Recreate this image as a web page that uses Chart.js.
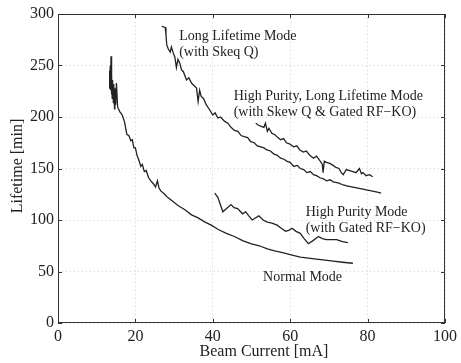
<!DOCTYPE html>
<html>
<head>
<meta charset="utf-8">
<script src="https://cdn.jsdelivr.net/npm/chart.js@4/dist/chart.umd.min.js"></script>
<style>
  html, body { margin: 0; padding: 0; background: #fff; }
  #wrap { width: 461px; height: 363px; }
</style>
</head>
<body>
<div id="wrap"><canvas id="chart" width="461" height="363"></canvas></div>
<script>
// beam lifetime vs. stored current for the four operating modes

const xTicks = [0, 20, 40, 60, 80, 100];
const yTicks = [0, 50, 100, 150, 200, 250, 300];

const normalX = [13.2,13.3,13.4,13.5,13.6,13.7,13.8,13.9,14.0,14.1,14.3,14.4,14.6,14.7,14.9,15.1,15.4,15.6,16.0,16.6,
  17.2,17.8,18.3,18.8,19.2,19.6,20.0,20.4,20.9,21.4,21.8,22.3,22.8,23.4,24.0,24.7,25.2,25.7,26.1,26.6,
  27.3,28.3,29.4,31.0,32.8,34.5,36.2,38.0,39.6,41.3,43.5,45.6,47.7,49.8,52.0,54.1,56.0,58.3,60.5,62.6,
  64.7,66.8,69.0,71.1,73.5,76.2];
const normalY = [228,245,230,250,226,259,222,240,218,236,214,232,208,228,212,233,210,208,205,202,
  195,183,182,177,178,170,170,163,158,152,154,147,148,141,138,135,132,138,131,128,
  126,122,119,114,110,105,102,98,95,91,87,84,80,77,75,72,70,68,66,64,
  63,62,61,60,59,58];

const purityX = [40.5,41.3,42.6,43.2,44.7,45.5,46.4,47.7,48.5,49.3,50.2,51.0,51.9,53.0,54.1,55.3,56.6,57.7,58.8,59.6,
  60.5,61.5,62.6,63.6,64.7,65.9,67.3,68.3,69.4,70.7,72.0,73.5,74.9];
const purityY = [126,122,108,110,115,112,111,106,108,104,100,102,104,100,98,97,95,92,89,90,
  92,89,87,82,77,80,84,82,81,81,81,79,78];

const longX = [26.8,27.7,27.9,28.1,28.5,29.0,29.3,29.8,30.2,30.6,31.0,31.5,31.9,32.4,32.8,33.2,33.8,34.5,35.0,35.8,
  36.2,36.6,37.0,37.6,38.3,39.0,40.0,40.6,41.3,42.0,43.0,43.9,44.7,45.6,46.5,47.3,48.1,49.0,49.8,50.7,
  51.5,52.4,53.2,54.0,54.9,55.8,56.6,57.5,58.4,59.2,60.0,60.9,61.8,62.6,63.5,64.3,65.2,66.0,66.8,67.7,
  68.6,69.4,70.3,71.1,72.4,73.7,74.9,76.2,77.5,78.8,80.0,81.3,82.5,83.5];
const longY = [288,287,280,270,266,263,268,262,258,248,256,252,246,244,240,236,238,233,231,228,
  215,226,220,218,212,208,202,204,199,200,196,194,190,187,186,182,181,180,176,175,
  172,171,170,168,167,164,163,160,159,157,156,152,153,150,149,146,147,144,143,141,
  140,138,139,137,136,134,133,132,131,130,129,128,127,126];

const bothX = [51.1,51.8,52.5,53.2,53.6,54.1,54.5,55.3,56.0,56.8,57.5,58.3,59.0,59.8,60.9,61.7,62.5,63.4,64.2,65.0,
  66.0,66.8,67.6,68.3,68.5,68.8,69.4,70.2,71.1,71.8,72.6,73.2,73.7,74.5,75.4,76.2,77.0,77.9,78.4,78.8,
  79.6,80.5,81.3];
const bothY = [194,192,191,190,194,186,189,184,183,180,178,179,175,174,171,172,168,166,167,163,
  160,162,158,154,146,157,156,155,153,151,150,146,144,149,148,147,146,150,145,146,
  143,144,142];

// in-plot annotations: text lines and their anchor in data units
const noteLines = [
  ["Long Lifetime Mode", "(with Skeq Q)"],
  ["High Purity, Long Lifetime Mode", "(with Skew Q & Gated RF\u2212KO)"],
  ["High Purity Mode", "(with Gated RF\u2212KO)"],
  ["Normal Mode"]
];
const noteX = [31.3, 45.4, 64.0, 53.0];
const noteY = [278, 220, 107, 44];

const SERIF = '"Liberation Serif", "Times New Roman", serif';
const INK = '#222';

function pts(xs, ys) {
  return xs.map((x, i) => ({ x: x, y: ys[i] }));
}

function series(label, xs, ys) {
  return {
    label: label,
    data: pts(xs, ys),
    borderColor: INK,
    borderWidth: 1.3,
    pointRadius: 0,
    tension: 0,
    fill: false
  };
}

// box around the plot with inward ticks, notes and axis titles
const framePlugin = {
  id: 'frame',
  afterDraw(chart) {
    const { ctx, chartArea: a, scales } = chart;
    ctx.save();
    ctx.strokeStyle = '#333';
    ctx.lineWidth = 1;
    ctx.strokeRect(a.left + 0.5, a.top + 0.5, a.right - a.left - 1, a.bottom - a.top - 1);

    const t = 4;
    ctx.beginPath();
    xTicks.forEach(v => {
      const px = Math.round(scales.x.getPixelForValue(v)) + 0.5;
      ctx.moveTo(px, a.bottom); ctx.lineTo(px, a.bottom - t);
      ctx.moveTo(px, a.top); ctx.lineTo(px, a.top + t);
    });
    yTicks.forEach(v => {
      const py = Math.round(scales.y.getPixelForValue(v)) + 0.5;
      ctx.moveTo(a.left, py); ctx.lineTo(a.left + t, py);
      ctx.moveTo(a.right, py); ctx.lineTo(a.right - t, py);
    });
    ctx.stroke();

    ctx.fillStyle = INK;
    ctx.font = '14px ' + SERIF;
    ctx.textAlign = 'left';
    ctx.textBaseline = 'middle';
    noteLines.forEach((lines, i) => {
      const px = scales.x.getPixelForValue(noteX[i]);
      const py = scales.y.getPixelForValue(noteY[i]);
      lines.forEach((s, j) => ctx.fillText(s, px, py + j * 16));
    });

    ctx.font = '16px ' + SERIF;
    ctx.textAlign = 'center';
    ctx.fillText('Beam Current [mA]', 264, 352);
    ctx.translate(18, 166);
    ctx.rotate(-Math.PI / 2);
    ctx.fillText('Lifetime [min]', 0, 0);
    ctx.restore();
  }
};

new Chart(document.getElementById('chart'), {
  type: 'line',
  data: {
    datasets: [
      series('Normal Mode', normalX, normalY),
      series('High Purity Mode', purityX, purityY),
      series('Long Lifetime Mode', longX, longY),
      series('High Purity, Long Lifetime Mode', bothX, bothY)
    ]
  },
  options: {
    responsive: false,
    animation: false,
    layout: { padding: { top: 14, right: 12, left: 0, bottom: 0 } },
    plugins: { legend: { display: false }, tooltip: { enabled: false } },
    scales: {
      x: {
        type: 'linear',
        min: 0, max: 100,
        afterFit: s => { s.height = 40; },
        afterBuildTicks: s => { s.ticks = xTicks.map(v => ({ value: v })); },
        ticks: { color: INK, font: { family: SERIF, size: 16 }, padding: 4, maxRotation: 0 },
        grid: { color: '#d2d2d2', lineWidth: 1, drawTicks: false },
        border: { display: false, dash: [1, 3] }
      },
      y: {
        min: 0, max: 300,
        afterFit: s => { s.width = 58; },
        afterBuildTicks: s => { s.ticks = yTicks.map(v => ({ value: v })); },
        ticks: { color: INK, font: { family: SERIF, size: 16 }, padding: 4 },
        grid: { color: '#d2d2d2', lineWidth: 1, drawTicks: false },
        border: { display: false, dash: [1, 3] }
      }
    }
  },
  plugins: [framePlugin]
});
</script>
</body>
</html>
